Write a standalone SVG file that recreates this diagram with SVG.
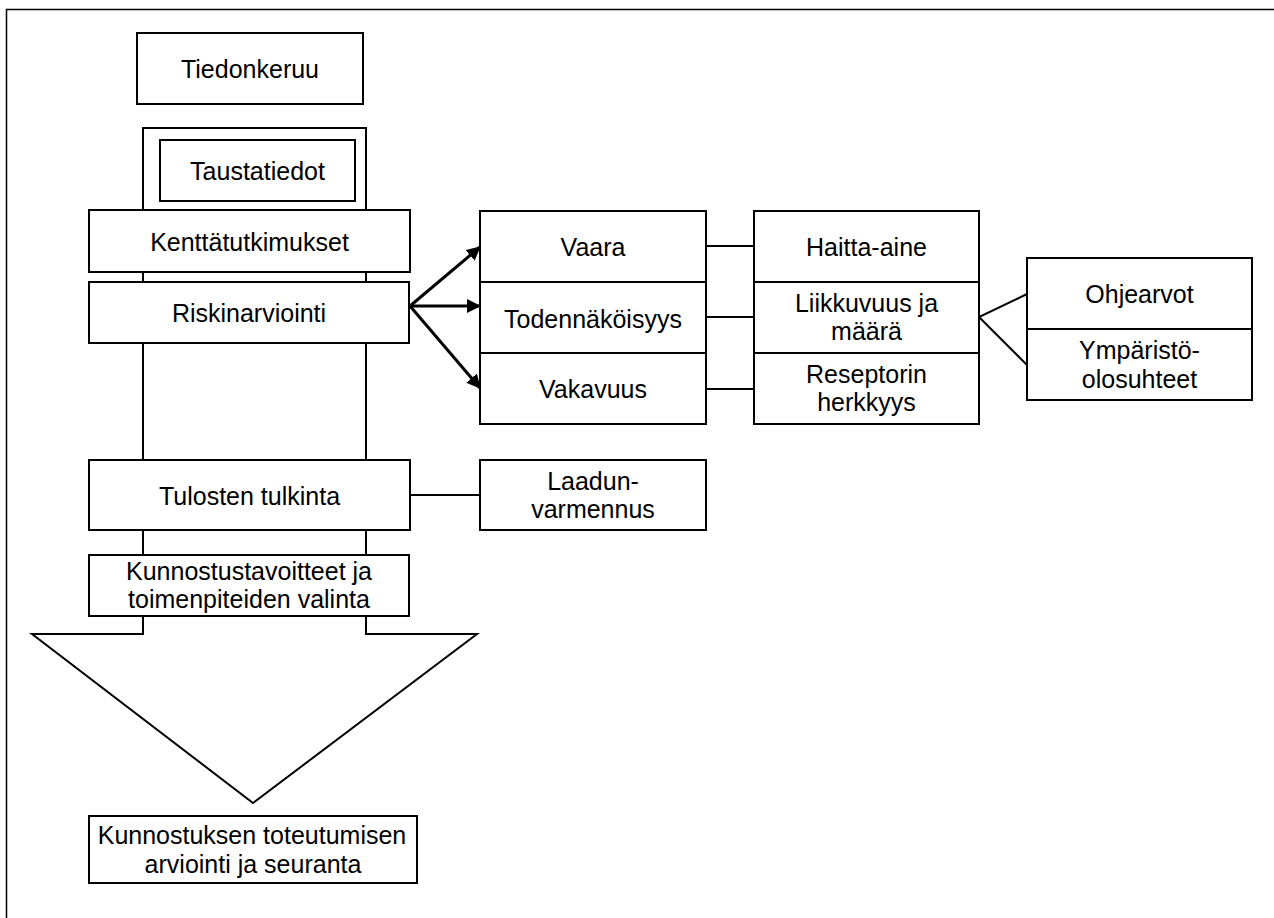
<svg xmlns="http://www.w3.org/2000/svg" width="1274" height="918" viewBox="0 0 1274 918">
<style>
.b{fill:#fff;stroke:#000;stroke-width:2}
.t{font-family:"Liberation Sans",Arial,sans-serif;font-size:25px;fill:#000;text-anchor:middle}
.c{stroke:#000;stroke-width:2;fill:none}
.a{stroke:#000;stroke-width:3;fill:none;marker-end:url(#ah)}
</style>
<defs>
<marker id="ah" markerUnits="userSpaceOnUse" markerWidth="14" markerHeight="14" viewBox="0 0 14 14" refX="13" refY="7" orient="auto">
<path d="M0,0 L14,7 L0,14 Z" fill="#000"/>
</marker>
</defs>
<rect width="1274" height="918" fill="#fff"/>
<path d="M6.5,918 V9.5 H1274" stroke="#000" stroke-width="1.5" fill="none"/>

<g id="bigArrow">
<path class="b" d="M143,128 H366 V634 H477 L253,803 L32,634 H143 Z"/>
</g>

<g id="connectors">
<line class="a" x1="410" y1="306" x2="480" y2="247"/>
<line class="a" x1="410" y1="306" x2="480" y2="306"/>
<line class="a" x1="410" y1="306" x2="480" y2="388"/>
<line class="c" x1="706" y1="246" x2="754" y2="246"/>
<line class="c" x1="706" y1="317" x2="754" y2="317"/>
<line class="c" x1="706" y1="389" x2="754" y2="389"/>
<line class="c" x1="410" y1="495" x2="480" y2="495"/>
<polyline class="c" points="1027,294 979,317 1027,365"/>
</g>

<g id="tiedonkeruu"><rect class="b" x="137" y="33" width="226" height="71"/><text class="t" x="250" y="77.5">Tiedonkeruu</text></g>
<g id="taustatiedot"><rect class="b" x="160" y="140" width="195" height="61"/><text class="t" x="257.5" y="180">Taustatiedot</text></g>
<g id="kenttatutkimukset"><rect class="b" x="89" y="210" width="321" height="62"/><text class="t" x="249.5" y="250.5">Kenttätutkimukset</text></g>
<g id="riskinarviointi"><rect class="b" x="89" y="282" width="320" height="61"/><text class="t" x="249" y="322">Riskinarviointi</text></g>
<g id="tulosten"><rect class="b" x="89" y="460" width="321" height="70"/><text class="t" x="249.5" y="505">Tulosten tulkinta</text></g>
<g id="kunnostustavoitteet"><rect class="b" x="89" y="555" width="320" height="61"/><text class="t" x="249" y="580">Kunnostustavoitteet ja</text><text class="t" x="249" y="608">toimenpiteiden valinta</text></g>
<g id="kunnostuksen"><rect class="b" x="89" y="816" width="328" height="67"/><text class="t" x="252" y="844">Kunnostuksen toteutumisen</text><text class="t" x="253" y="872.5">arviointi ja seuranta</text></g>

<g id="vaara"><rect class="b" x="480" y="211" width="226" height="71"/><text class="t" x="593" y="255.5">Vaara</text></g>
<g id="todennakoisyys"><rect class="b" x="480" y="282" width="226" height="71"/><text class="t" x="593" y="327.5">Todennäköisyys</text></g>
<g id="vakavuus"><rect class="b" x="480" y="353" width="226" height="71"/><text class="t" x="593" y="398">Vakavuus</text></g>

<g id="haitta-aine"><rect class="b" x="754" y="211" width="225" height="71"/><text class="t" x="866.5" y="255.5">Haitta-aine</text></g>
<g id="liikkuvuus"><rect class="b" x="754" y="282" width="225" height="71"/><text class="t" x="866.5" y="312">Liikkuvuus ja</text><text class="t" x="866.5" y="340">määrä</text></g>
<g id="reseptorin"><rect class="b" x="754" y="353" width="225" height="71"/><text class="t" x="866.5" y="383">Reseptorin</text><text class="t" x="866.5" y="411">herkkyys</text></g>

<g id="ohjearvot"><rect class="b" x="1027" y="258" width="225" height="71"/><text class="t" x="1139.5" y="303">Ohjearvot</text></g>
<g id="ymparisto"><rect class="b" x="1027" y="329" width="225" height="71"/><text class="t" x="1139.5" y="358.5">Ympäristö-</text><text class="t" x="1139.5" y="388">olosuhteet</text></g>

<g id="laadunvarmennus"><rect class="b" x="480" y="460" width="226" height="70"/><text class="t" x="593" y="490">Laadun-</text><text class="t" x="593" y="518">varmennus</text></g>
</svg>
